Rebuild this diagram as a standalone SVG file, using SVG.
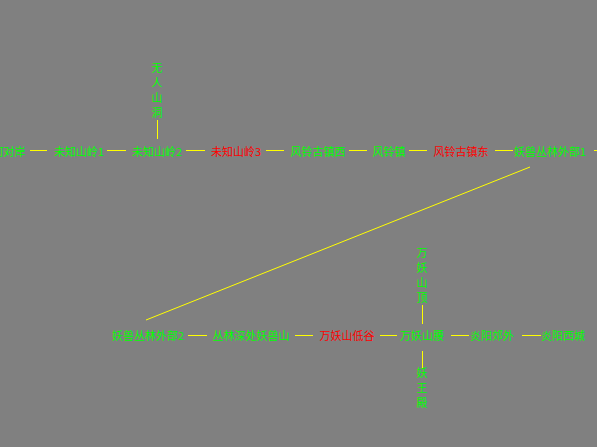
<svg xmlns="http://www.w3.org/2000/svg" width="597" height="447" viewBox="0 0 597 447">
<style>
text{font-family:"Noto Sans CJK SC","Noto Sans",sans-serif;font-size:11px;text-anchor:middle;fill:#00ff00}
text.red{fill:#ff0000}
line{stroke:#ffff00;stroke-width:1}
</style>
<rect width="597" height="447" fill="#808080"/>
<g id="connectors">
<line x1="30" y1="150.5" x2="47" y2="150.5"/>
<line x1="107" y1="150.5" x2="126" y2="150.5"/>
<line x1="186" y1="150.5" x2="205" y2="150.5"/>
<line x1="266" y1="150.5" x2="284" y2="150.5"/>
<line x1="349" y1="150.5" x2="367" y2="150.5"/>
<line x1="409" y1="150.5" x2="427" y2="150.5"/>
<line x1="495" y1="150.5" x2="513" y2="150.5"/>
<line x1="594" y1="150.5" x2="597" y2="150.5"/>
<line x1="157.5" y1="120" x2="157.5" y2="139"/>
<line x1="530" y1="167" x2="146" y2="320"/>
<line x1="188" y1="335.5" x2="207" y2="335.5"/>
<line x1="295" y1="335.5" x2="313" y2="335.5"/>
<line x1="380" y1="335.5" x2="397" y2="335.5"/>
<line x1="451" y1="335.5" x2="469" y2="335.5"/>
<line x1="522" y1="335.5" x2="541" y2="335.5"/>
<line x1="422.5" y1="305" x2="422.5" y2="324"/>
<line x1="422.5" y1="351" x2="422.5" y2="369"/>
</g>
<g id="n_hedui"><text x="9" y="156">河对岸</text></g>
<g id="n_wz1"><text x="79" y="156">未知山岭1</text></g>
<g id="n_wz2"><text x="157" y="156">未知山岭2</text></g>
<g id="n_wrsd"><text x="157" y="72"><tspan x="157">无</tspan><tspan x="157" dy="15">人</tspan><tspan x="157" dy="15">山</tspan><tspan x="157" dy="15">洞</tspan></text></g>
<g id="n_wz3"><text class="red" x="236" y="156">未知山岭3</text></g>
<g id="n_flx"><text x="318" y="156">风铃古镇西</text></g>
<g id="n_flz"><text x="389" y="156">风铃镇</text></g>
<g id="n_fld"><text class="red" x="461" y="156">风铃古镇东</text></g>
<g id="n_ys1"><text x="550" y="156">妖兽丛林外部1</text></g>
<g id="n_ys2"><text x="148" y="340">妖兽丛林外部2</text></g>
<g id="n_clsc"><text x="251" y="340">丛林深处妖兽山</text></g>
<g id="n_wydg"><text class="red" x="347" y="340">万妖山低谷</text></g>
<g id="n_wyy"><text x="422" y="340">万妖山腰</text></g>
<g id="n_wyd"><text x="422" y="257"><tspan x="422">万</tspan><tspan x="422" dy="15">妖</tspan><tspan x="422" dy="15">山</tspan><tspan x="422" dy="15">顶</tspan></text></g>
<g id="n_ywd"><text x="422" y="377"><tspan x="422">妖</tspan><tspan x="422" dy="15">王</tspan><tspan x="422" dy="15">殿</tspan></text></g>
<g id="n_yyjw"><text x="492" y="340">炎阳郊外</text></g>
<g id="n_yyxc"><text x="563" y="340">炎阳西城</text></g>
</svg>
